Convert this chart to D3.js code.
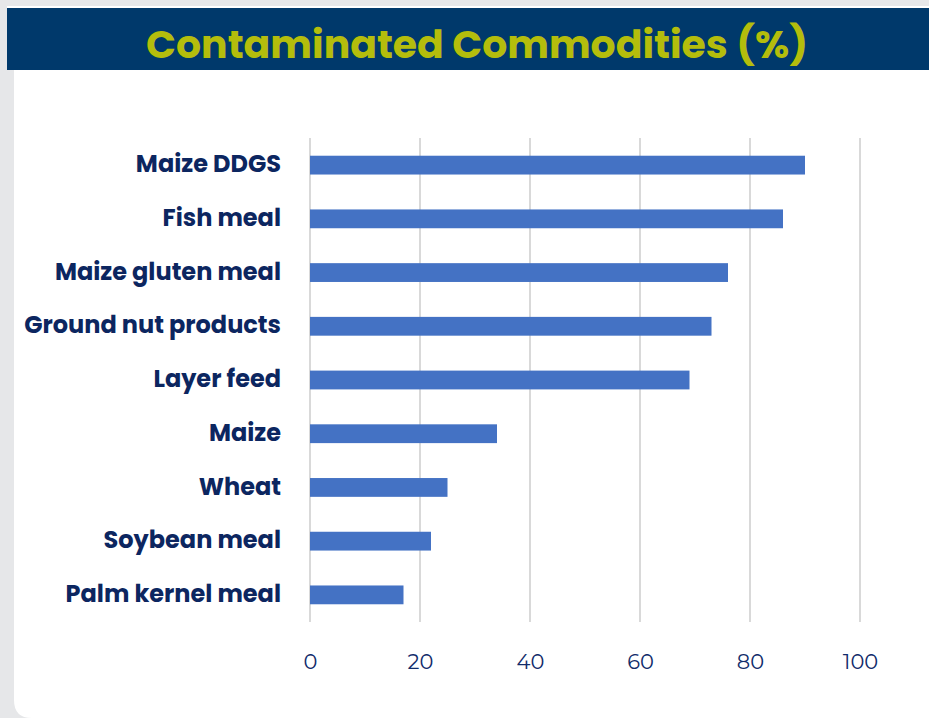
<!DOCTYPE html>
<html><head><meta charset="utf-8">
<script src="https://cdn.jsdelivr.net/npm/d3@7"></script>
<style>html,body{margin:0;padding:0;background:#e6e7e9;overflow:hidden}</style>
</head><body>
<svg id="c" width="929" height="718"></svg>
<script>
const categories = ["Maize DDGS","Fish meal","Maize gluten meal","Ground nut products","Layer feed","Maize","Wheat","Soybean meal","Palm kernel meal"];
const values = [90,86,76,73,69,34,25,22,17];
const xTicks = [0,20,40,60,80,100];
const title = "Contaminated Commodities (%)";

const svg = d3.select("#c");
svg.append("rect").attr("x",0).attr("y",0).attr("width",929).attr("height",718).attr("fill","#e6e7e9");
svg.append("path").attr("d","M14,60 H929 V718 H32 Q14,718 14,700 Z").attr("fill","#ffffff");
svg.append("rect").attr("x",7).attr("y",6).attr("width",922).attr("height",2).attr("fill","#ffffff");
svg.append("rect").attr("x",7).attr("y",8).attr("width",922).attr("height",62).attr("fill","#00396b");
const t = svg.append("text").attr("x",477).attr("y",58).attr("text-anchor","middle")
  .attr("font-family","Poppins, Lato, 'Open Sans', sans-serif").attr("font-weight",700)
  .attr("font-size",40).attr("fill","#b4bd0c").text(title);
const tw = t.node().getComputedTextLength();
t.attr("font-size", Math.min(43, 40*662/tw));

const x = d3.scaleLinear().domain([0,100]).range([310,860]);
const y = d3.scaleBand().domain(categories).range([138,622]).paddingInner(0.65).paddingOuter(0.33);

svg.append("g").selectAll("line").data(xTicks).join("line")
  .attr("x1",d=>x(d)).attr("x2",d=>x(d)).attr("y1",138).attr("y2",622)
  .attr("stroke","#d9d9d9").attr("stroke-width",2);

svg.append("g").selectAll("rect").data(values).join("rect")
  .attr("x",x(0)).attr("y",(d,i)=>y(categories[i]))
  .attr("width",d=>x(d)-x(0)).attr("height",y.bandwidth())
  .attr("fill","#4472c4");

svg.append("g").selectAll("text").data(categories).join("text")
  .attr("x",281).attr("y",d=>y(d)+y.bandwidth()/2).attr("dy","0.3em")
  .attr("text-anchor","end").attr("font-family","Poppins, Lato, sans-serif")
  .attr("font-weight",700).attr("font-size",24).attr("fill","#0c2660").text(d=>d);

const xAxis = d3.axisBottom(x).tickValues(xTicks).tickSize(0).tickPadding(0);
const gx = svg.append("g").attr("transform","translate(0,669)").call(xAxis);
gx.select(".domain").remove();
gx.selectAll("text").attr("font-family","Montserrat, 'Noto Sans', sans-serif").attr("font-size",21)
  .attr("fill","#112c6b").attr("dy",0);
</script>
</body></html>
